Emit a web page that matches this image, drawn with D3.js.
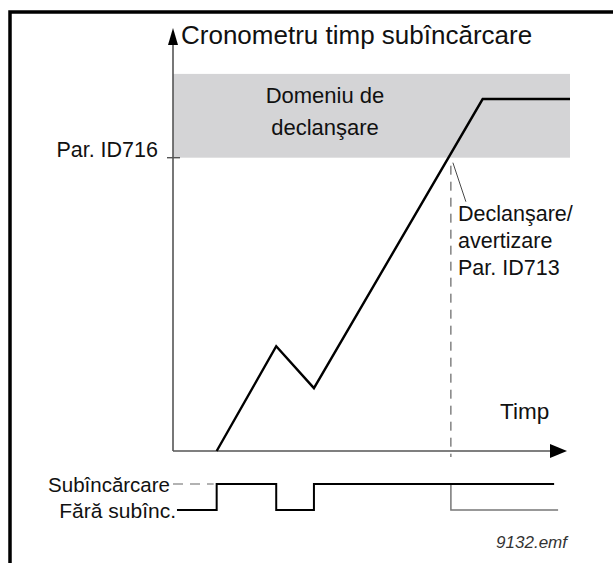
<!DOCTYPE html>
<html>
<head>
<meta charset="utf-8">
<script src="https://cdn.jsdelivr.net/npm/d3@7"></script>
<style>
  html, body { margin: 0; padding: 0; background: #fff; }
  svg { display: block; }
  text { font-family: "Liberation Sans", Arial, Helvetica, sans-serif; fill: #111; }
</style>
</head>
<body>
<svg id="chart" width="613" height="563"></svg>
<script>
// Underload timer diagram: timer value vs. time, with the underload state signal below.

// Timer curve (time units, timer units)
const timerTime  = [11, 26, 35.5, 78, 100];
const timerValue = [0, 25, 15, 84, 84];

// Trip limit (Par. ID716) and trip area top
const tripLimit = 70;
const tripAreaTop = 90;
// Moment of trip / warning (Par. ID713)
const tripTime = 70;

// Underload state signal: 1 = underload, 0 = no underload
const stateTime  = [1, 11, 11, 26, 26, 35.5, 35.5, 96];
const stateValue = [0, 0, 1, 1, 0, 0, 1, 1];
// State after trip (alternative path)
const afterTripTime  = [70, 70, 97];
const afterTripValue = [1, 0, 0];

// Texts
const yAxisTitle = "Cronometru timp subîncărcare";
const xAxisTitle = "Timp";
const tripAreaLabel = ["Domeniu de", "declanşare"];
const limitLabel = "Par. ID716";
const tripLabel = ["Declanşare/", "avertizare", "Par. ID713"];
const stateLabels = ["Subîncărcare", "Fără subînc."];
const fileTag = "9132.emf";

const svg = d3.select("#chart");

// Frame (open to the right and bottom)
svg.append("path")
  .attr("d", "M10,570 L10,12 L620,12")
  .attr("fill", "none").attr("stroke", "#000").attr("stroke-width", 3.5);

const x = d3.scaleLinear().domain([0, 100]).range([173, 570]);
const y = d3.scaleLinear().domain([0, 100]).range([451, 32]);
const s = d3.scaleLinear().domain([0, 1]).range([510, 484]);

// Trip area band
svg.append("rect")
  .attr("x", x(0)).attr("y", y(tripAreaTop))
  .attr("width", x(100) - x(0)).attr("height", y(tripLimit) - y(tripAreaTop))
  .attr("fill", "#d4d4d6");

svg.append("text")
  .attr("x", 325).attr("y", y(tripAreaTop) + 29)
  .attr("text-anchor", "middle").attr("font-size", 22)
  .text(tripAreaLabel[0]);
svg.append("text")
  .attr("x", 325).attr("y", y(tripAreaTop) + 61)
  .attr("text-anchor", "middle").attr("font-size", 22)
  .text(tripAreaLabel[1]);

// Axes
const axisColor = "#555";
svg.append("line")
  .attr("x1", x(0)).attr("y1", y(0)).attr("x2", x(0)).attr("y2", 40)
  .attr("stroke", axisColor).attr("stroke-width", 1.6);
svg.append("path")
  .attr("d", `M${x(0)},28 L${x(0) - 5},45 L${x(0) + 5},45 Z`)
  .attr("fill", "#000");
svg.append("line")
  .attr("x1", x(0)).attr("y1", y(0)).attr("x2", 556).attr("y2", y(0))
  .attr("stroke", axisColor).attr("stroke-width", 1.6);
svg.append("path")
  .attr("d", `M567,${y(0)} L550,${y(0) - 7} L550,${y(0) + 7} Z`)
  .attr("fill", "#000");

// Limit tick and label
svg.append("line")
  .attr("x1", x(0) - 6).attr("x2", x(0) + 7)
  .attr("y1", y(tripLimit)).attr("y2", y(tripLimit))
  .attr("stroke", axisColor).attr("stroke-width", 1.4);
svg.append("text")
  .attr("x", 158).attr("y", y(tripLimit) - 1)
  .attr("text-anchor", "end").attr("font-size", 21.5)
  .text(limitLabel);

// Axis titles
svg.append("text")
  .attr("x", 181).attr("y", 44).attr("font-size", 26)
  .text(yAxisTitle);
svg.append("text")
  .attr("x", 500).attr("y", 419).attr("font-size", 22.5)
  .text(xAxisTitle);

// Trip moment: dashed vertical line
svg.append("line")
  .attr("x1", x(tripTime)).attr("x2", x(tripTime))
  .attr("y1", y(tripLimit) + 8).attr("y2", y(0) + 6)
  .attr("stroke", "#444").attr("stroke-width", 1)
  .attr("stroke-dasharray", "9,7");

// Callout leader and label
svg.append("line")
  .attr("x1", x(tripTime) + 2).attr("y1", y(tripLimit) + 5)
  .attr("x2", x(tripTime) + 15).attr("y2", y(tripLimit) + 44)
  .attr("stroke", "#333").attr("stroke-width", 0.9);
tripLabel.forEach((t, i) => {
  svg.append("text")
    .attr("x", 458).attr("y", 221 + i * 27)
    .attr("font-size", 21.5)
    .text(t);
});

// Timer curve
const line = d3.line().x(d => x(d[0])).y(d => y(d[1]));
svg.append("path")
  .datum(d3.zip(timerTime, timerValue))
  .attr("d", line)
  .attr("fill", "none").attr("stroke", "#000").attr("stroke-width", 2.4)
  .attr("stroke-linejoin", "miter");

// State signal
const sline = d3.line().x(d => x(d[0])).y(d => s(d[1]));
svg.append("line")
  .attr("x1", x(0)).attr("x2", x(stateTime[1]) - 3)
  .attr("y1", s(1)).attr("y2", s(1))
  .attr("stroke", "#666").attr("stroke-width", 1.2)
  .attr("stroke-dasharray", "10,7");
svg.append("path")
  .datum(d3.zip(afterTripTime, afterTripValue))
  .attr("d", sline)
  .attr("fill", "none").attr("stroke", "#777").attr("stroke-width", 1.5);
svg.append("path")
  .datum(d3.zip(stateTime, stateValue))
  .attr("d", sline)
  .attr("fill", "none").attr("stroke", "#000").attr("stroke-width", 2);

svg.append("text")
  .attr("x", 170).attr("y", s(1) + 8)
  .attr("text-anchor", "end").attr("font-size", 20.5)
  .text(stateLabels[0]);
svg.append("text")
  .attr("x", 176).attr("y", s(0) + 8)
  .attr("text-anchor", "end").attr("font-size", 21)
  .text(stateLabels[1]);

svg.append("text")
  .attr("x", 567).attr("y", 548)
  .attr("text-anchor", "end").attr("font-size", 17)
  .attr("font-style", "italic").style("fill", "#333")
  .text(fileTag);
</script>
</body>
</html>
